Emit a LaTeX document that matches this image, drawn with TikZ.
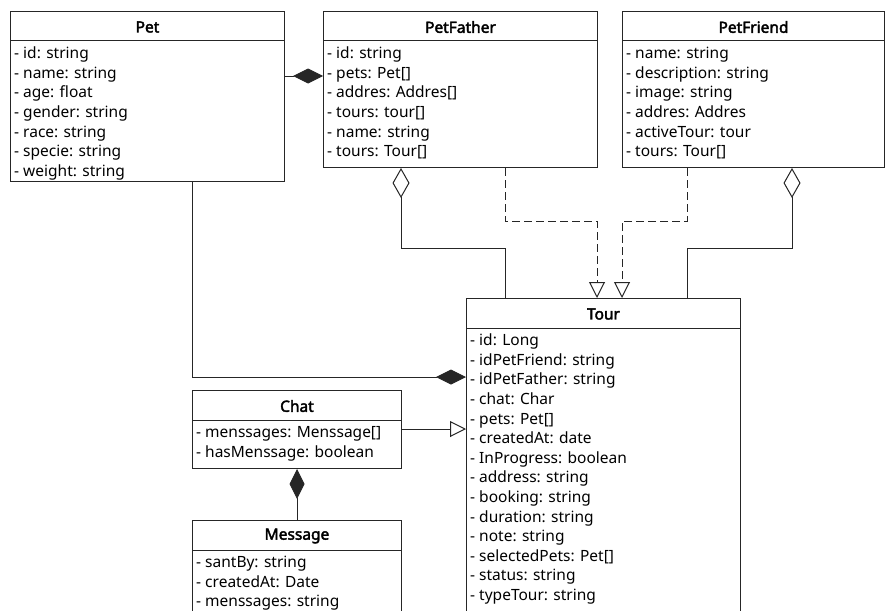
\documentclass[tikz,border=0pt]{standalone}
\usepackage{fontspec}
\setmainfont{Noto Sans}[AutoFakeBold=2.5]
\usetikzlibrary{arrows.meta,calc}
\tikzset{
  clsbox/.style={draw=black!85, line width=1pt, inner sep=0pt, fill=white},
  clstitle/.style={font=\fontsize{15.5}{18}\selectfont\bfseries, inner sep=0pt, anchor=center},
  clsattr/.style={font=\fontsize{15.5}{18}\selectfont, inner sep=0pt, anchor=base west},
  clsline/.style={draw=black!85, line width=1pt},
  conn/.style={draw=black!85, line width=1pt},
  dashconn/.style={conn, dash pattern=on 8pt off 4pt},
  compstart/.style={{Diamond[length=30pt,width=15pt]}-},
  compend/.style={-{Diamond[length=30pt,width=15pt]}},
  aggstart/.style={{Diamond[open,length=30pt,width=17pt,fill=white]}-},
  realend/.style={-{Triangle[open,length=16pt,width=16pt,fill=white]}},
}
\newcommand\umlclass[7]{%
  \node[clsbox, minimum width=#4pt, minimum height=#5pt, anchor=north west] (#1) at (#2,#3) {};
  \node[clstitle] (#1-title) at ($(#1.north)+(0,16)$) {#6};
  \draw[clsline] ($(#1.north west)+(0,30)$) -- ($(#1.north east)+(0,30)$);
  \foreach \t [count=\i] in {#7} {
    \node[clsattr] (#1-a\i) at ($(#1.north west)+(4,28+19.6*\i)$) {\t};
  }%
}
\begin{document}
\begin{tikzpicture}[x=1pt,y=-1pt]
\clip (0,0) rectangle (885,610);
\fill[white] (0,0) rectangle (885,610);

\umlclass{pet}{10}{11}{274}{170}{Pet}{- id: string,- name: string,- age: float,- gender: string,- race: string,- specie: string,- weight: string}
\umlclass{petfather}{323}{11}{274}{156}{PetFather}{- id: string,- pets: Pet[],- addres: Addres[],- tours: tour[],- name: string,- tours: Tour[]}
\umlclass{petfriend}{622}{11}{262}{156}{PetFriend}{- name: string,- description: string,- image: string,- addres: Addres,- activeTour: tour,- tours: Tour[]}
\umlclass{tour}{466}{298}{274}{330}{Tour}{- id: Long,- idPetFriend: string,- idPetFather: string,- chat: Char,- pets: Pet[],- createdAt: date,- InProgress: boolean,- address: string,- booking: string,- duration: string,- note: string,- selectedPets: Pet[],- status: string,- typeTour: string}
\umlclass{chat}{192}{390}{209}{78}{Chat}{- menssages: Menssage[],- hasMenssage: boolean}
\umlclass{message}{192}{520}{209}{110}{Message}{- santBy: string,- createdAt: Date,- menssages: string}

% Pet -- PetFather composition
\draw[conn,compend] ($(pet.north east)+(0,65)$) -- ($(petfather.north west)+(0,65)$);
% PetFather aggregation to Tour
\draw[conn,aggstart] ($(petfather.south west)+(78,0)$) -- ++(0,80) -| ($(tour.north west)+(39,0)$);
% PetFather realization
\draw[dashconn,realend] ($(petfather.south west)+(182,0)$) -- ++(0,53) -| ($(tour.north west)+(131,0)$);
% PetFriend realization
\draw[dashconn,realend] ($(petfriend.south west)+(65,0)$) -- ++(0,53) -| ($(tour.north west)+(156,0)$);
% PetFriend aggregation
\draw[conn,aggstart] ($(petfriend.south west)+(170,0)$) -- ++(0,80) -| ($(tour.north west)+(221,0)$);
% Pet -- Tour composition
\draw[conn,compend] ($(pet.south west)+(182,0)$) |- ($(tour.north west)+(0,79)$);
% Chat -- Tour
\draw[conn,realend] ($(chat.north east)+(0,39)$) -- ($(tour.north west)+(0,131)$);
% Chat -- Message
\draw[conn,compstart] (chat.south) -- (message.north);
\end{tikzpicture}
\end{document}
